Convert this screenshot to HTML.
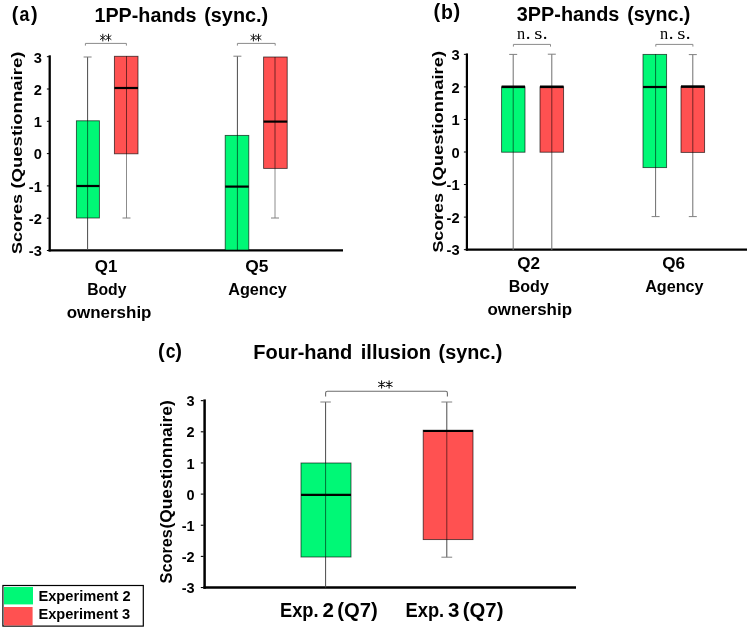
<!DOCTYPE html>
<html><head><meta charset="utf-8"><title>Figure</title>
<style>html,body{margin:0;padding:0;background:#fff;}svg{display:block;will-change:transform;}text{font-kerning:normal;}</style>
</head><body>
<svg width="750" height="630" viewBox="0 0 750 630">
<rect width="750" height="630" fill="#fff"/>
<text x="11.8" y="20.8" font-family="Liberation Sans" font-size="19.85" font-weight="bold" text-anchor="start" fill="#000" >(</text>
<text x="19.5" y="21.0" font-family="Liberation Sans" font-size="19.5" font-weight="bold" text-anchor="start" fill="#000" textLength="9.9" lengthAdjust="spacingAndGlyphs" >a</text>
<text x="30.9" y="20.8" font-family="Liberation Sans" font-size="19.85" font-weight="bold" text-anchor="start" fill="#000" >)</text>
<text x="94.4" y="21.7" font-family="Liberation Sans" font-size="20.3" font-weight="bold" text-anchor="start" fill="#000" textLength="102.2" lengthAdjust="spacingAndGlyphs" >1PP-hands</text>
<text x="204.2" y="21.7" font-family="Liberation Sans" font-size="20.3" font-weight="bold" text-anchor="start" fill="#000" textLength="64" lengthAdjust="spacingAndGlyphs" >(sync.)</text>
<text transform="translate(21.8,254.1) rotate(-90) scale(1.0,1.0)" font-family="Liberation Sans" font-size="14" font-weight="bold" text-anchor="start" fill="#000" textLength="60" lengthAdjust="spacingAndGlyphs">Scores</text>
<text transform="translate(21.8,188.6) rotate(-90) scale(1.0,1.0)" font-family="Liberation Sans" font-size="14" font-weight="bold" text-anchor="start" fill="#000" textLength="137" lengthAdjust="spacingAndGlyphs">(Questionnaire)</text>
<line x1="49.7" y1="55.3" x2="49.7" y2="251.5" stroke="#000" stroke-width="2.3" />
<line x1="48.6" y1="250.3" x2="343" y2="250.3" stroke="#000" stroke-width="2.3" />
<line x1="46.9" y1="56.7" x2="49" y2="56.7" stroke="#000" stroke-width="1" />
<text x="41.8" y="62.5" font-family="Liberation Sans" font-size="14.7" font-weight="bold" text-anchor="end" fill="#000" >3</text>
<line x1="46.9" y1="89.0" x2="49" y2="89.0" stroke="#000" stroke-width="1" />
<text x="41.8" y="94.8" font-family="Liberation Sans" font-size="14.7" font-weight="bold" text-anchor="end" fill="#000" >2</text>
<line x1="46.9" y1="121.3" x2="49" y2="121.3" stroke="#000" stroke-width="1" />
<text x="41.8" y="127.1" font-family="Liberation Sans" font-size="14.7" font-weight="bold" text-anchor="end" fill="#000" >1</text>
<line x1="46.9" y1="153.6" x2="49" y2="153.6" stroke="#000" stroke-width="1" />
<text x="41.8" y="159.4" font-family="Liberation Sans" font-size="14.7" font-weight="bold" text-anchor="end" fill="#000" >0</text>
<line x1="46.9" y1="185.89999999999998" x2="49" y2="185.89999999999998" stroke="#000" stroke-width="1" />
<text x="41.8" y="191.7" font-family="Liberation Sans" font-size="14.7" font-weight="bold" text-anchor="end" fill="#000" >-1</text>
<line x1="46.9" y1="218.2" x2="49" y2="218.2" stroke="#000" stroke-width="1" />
<text x="41.8" y="224.0" font-family="Liberation Sans" font-size="14.7" font-weight="bold" text-anchor="end" fill="#000" >-2</text>
<line x1="46.9" y1="250.5" x2="49" y2="250.5" stroke="#000" stroke-width="1" />
<text x="41.8" y="256.3" font-family="Liberation Sans" font-size="14.7" font-weight="bold" text-anchor="end" fill="#000" >-3</text>
<line x1="87.6" y1="57" x2="87.6" y2="250" stroke="#4a4a4a" stroke-width="1" />
<line x1="83.6" y1="57" x2="91.6" y2="57" stroke="#808080" stroke-width="1" />
<rect x="76.4" y="120.8" width="23.0" height="97.2" fill="#00F876" stroke="rgba(0,0,0,0.68)" stroke-width="0.9"/>
<line x1="87.6" y1="120.8" x2="87.6" y2="218" stroke="rgba(0,0,0,0.55)" stroke-width="1" />
<line x1="76.4" y1="186" x2="99.4" y2="186" stroke="#000" stroke-width="2.2" />
<line x1="126.5" y1="56.3" x2="126.5" y2="218" stroke="#8c8c8c" stroke-width="1" />
<line x1="122.5" y1="218" x2="130.5" y2="218" stroke="#808080" stroke-width="1" />
<rect x="114.4" y="56.3" width="23.599999999999994" height="97.50000000000001" fill="#FF5151" stroke="rgba(0,0,0,0.68)" stroke-width="0.9"/>
<line x1="126.5" y1="56.3" x2="126.5" y2="153.8" stroke="rgba(0,0,0,0.55)" stroke-width="1" />
<line x1="114.4" y1="88" x2="138" y2="88" stroke="#000" stroke-width="2.2" />
<line x1="237.4" y1="56.2" x2="237.4" y2="250" stroke="#4a4a4a" stroke-width="1" />
<line x1="233.4" y1="56.2" x2="241.4" y2="56.2" stroke="#808080" stroke-width="1" />
<rect x="225.2" y="135.4" width="23.600000000000023" height="114.6" fill="#00F876" stroke="rgba(0,0,0,0.68)" stroke-width="0.9"/>
<line x1="237.4" y1="135.4" x2="237.4" y2="250" stroke="rgba(0,0,0,0.55)" stroke-width="1" />
<line x1="225.2" y1="186.6" x2="248.8" y2="186.6" stroke="#000" stroke-width="2.2" />
<line x1="275" y1="57" x2="275" y2="218" stroke="#8c8c8c" stroke-width="1" />
<line x1="271.0" y1="218" x2="279.0" y2="218" stroke="#808080" stroke-width="1" />
<rect x="263.6" y="57" width="23.599999999999966" height="111.4" fill="#FF5151" stroke="rgba(0,0,0,0.68)" stroke-width="0.9"/>
<line x1="275" y1="57" x2="275" y2="168.4" stroke="rgba(0,0,0,0.55)" stroke-width="1" />
<line x1="263.6" y1="121.6" x2="287.2" y2="121.6" stroke="#000" stroke-width="2.2" />
<path d="M85.4 45.6 V43.4 H126.4 V45.6" fill="none" stroke="#8a8a8a" stroke-width="1"/>
<path d="M237.4 45.6 V43.4 H275.2 V45.6" fill="none" stroke="#8a8a8a" stroke-width="1"/>
<path d="M102.8 34.2 V41.0 M100.3 35.730000000000004 L105.3 39.47 M100.3 39.47 L105.3 35.730000000000004" fill="none" stroke="#111" stroke-width="0.95" stroke-linecap="round"/>
<path d="M108.5 34.2 V41.0 M106.0 35.730000000000004 L111.0 39.47 M106.0 39.47 L111.0 35.730000000000004" fill="none" stroke="#111" stroke-width="0.95" stroke-linecap="round"/>
<path d="M253.4 34.2 V41.0 M250.9 35.730000000000004 L255.9 39.47 M250.9 39.47 L255.9 35.730000000000004" fill="none" stroke="#111" stroke-width="0.95" stroke-linecap="round"/>
<path d="M258.5 34.2 V41.0 M256.0 35.730000000000004 L261.0 39.47 M256.0 39.47 L261.0 35.730000000000004" fill="none" stroke="#111" stroke-width="0.95" stroke-linecap="round"/>
<text x="106.1" y="271.7" font-family="Liberation Sans" font-size="17" font-weight="bold" text-anchor="middle" fill="#000" textLength="22.6" lengthAdjust="spacingAndGlyphs" >Q1</text>
<text x="106.8" y="295.1" font-family="Liberation Sans" font-size="17" font-weight="bold" text-anchor="middle" fill="#000" textLength="39.3" lengthAdjust="spacingAndGlyphs" >Body</text>
<text x="109.1" y="317.7" font-family="Liberation Sans" font-size="17" font-weight="bold" text-anchor="middle" fill="#000" textLength="84.8" lengthAdjust="spacingAndGlyphs" >ownership</text>
<text x="256.9" y="271.7" font-family="Liberation Sans" font-size="17" font-weight="bold" text-anchor="middle" fill="#000" textLength="23.2" lengthAdjust="spacingAndGlyphs" >Q5</text>
<text x="257.5" y="295.2" font-family="Liberation Sans" font-size="17" font-weight="bold" text-anchor="middle" fill="#000" textLength="58.6" lengthAdjust="spacingAndGlyphs" >Agency</text>
<text x="433.5" y="18.45" font-family="Liberation Sans" font-size="20.05" font-weight="bold" text-anchor="start" fill="#000" >(</text>
<text x="440.9" y="18.8" font-family="Liberation Sans" font-size="20.5" font-weight="bold" text-anchor="start" fill="#000" textLength="11.9" lengthAdjust="spacingAndGlyphs" >b</text>
<text x="453.6" y="18.45" font-family="Liberation Sans" font-size="20.05" font-weight="bold" text-anchor="start" fill="#000" >)</text>
<text x="516.8" y="21.1" font-family="Liberation Sans" font-size="20.3" font-weight="bold" text-anchor="start" fill="#000" textLength="102.6" lengthAdjust="spacingAndGlyphs" >3PP-hands</text>
<text x="627.2" y="21.1" font-family="Liberation Sans" font-size="20.3" font-weight="bold" text-anchor="start" fill="#000" textLength="63.2" lengthAdjust="spacingAndGlyphs" >(sync.)</text>
<text transform="translate(443.0,252.6) rotate(-90) scale(1.0,1.0)" font-family="Liberation Sans" font-size="14" font-weight="bold" text-anchor="start" fill="#000" textLength="59.5" lengthAdjust="spacingAndGlyphs">Scores</text>
<text transform="translate(443.0,186.7) rotate(-90) scale(1.0,1.0)" font-family="Liberation Sans" font-size="14" font-weight="bold" text-anchor="start" fill="#000" textLength="135.8" lengthAdjust="spacingAndGlyphs">(Questionnaire)</text>
<line x1="466.9" y1="53.4" x2="466.9" y2="250.7" stroke="#000" stroke-width="2.2" />
<line x1="465.8" y1="249.6" x2="747" y2="249.6" stroke="#000" stroke-width="2.2" />
<line x1="463.9" y1="54.35000000000001" x2="466" y2="54.35000000000001" stroke="#000" stroke-width="1" />
<text x="459.6" y="60.150000000000006" font-family="Liberation Sans" font-size="14.7" font-weight="bold" text-anchor="end" fill="#000" >3</text>
<line x1="463.9" y1="86.9" x2="466" y2="86.9" stroke="#000" stroke-width="1" />
<text x="459.6" y="92.7" font-family="Liberation Sans" font-size="14.7" font-weight="bold" text-anchor="end" fill="#000" >2</text>
<line x1="463.9" y1="119.45" x2="466" y2="119.45" stroke="#000" stroke-width="1" />
<text x="459.6" y="125.25" font-family="Liberation Sans" font-size="14.7" font-weight="bold" text-anchor="end" fill="#000" >1</text>
<line x1="463.9" y1="152.0" x2="466" y2="152.0" stroke="#000" stroke-width="1" />
<text x="459.6" y="157.8" font-family="Liberation Sans" font-size="14.7" font-weight="bold" text-anchor="end" fill="#000" >0</text>
<line x1="463.9" y1="184.55" x2="466" y2="184.55" stroke="#000" stroke-width="1" />
<text x="459.6" y="190.35000000000002" font-family="Liberation Sans" font-size="14.7" font-weight="bold" text-anchor="end" fill="#000" >-1</text>
<line x1="463.9" y1="217.1" x2="466" y2="217.1" stroke="#000" stroke-width="1" />
<text x="459.6" y="222.9" font-family="Liberation Sans" font-size="14.7" font-weight="bold" text-anchor="end" fill="#000" >-2</text>
<line x1="463.9" y1="249.64999999999998" x2="466" y2="249.64999999999998" stroke="#000" stroke-width="1" />
<text x="459.6" y="255.45" font-family="Liberation Sans" font-size="14.7" font-weight="bold" text-anchor="end" fill="#000" >-3</text>
<line x1="513.2" y1="54.4" x2="513.2" y2="250" stroke="#6e6e6e" stroke-width="1" />
<line x1="509.20000000000005" y1="54.4" x2="517.2" y2="54.4" stroke="#808080" stroke-width="1" />
<rect x="501.6" y="86.8" width="23.399999999999977" height="65.39999999999999" fill="#00F876" stroke="rgba(0,0,0,0.68)" stroke-width="0.9"/>
<line x1="513.2" y1="86.8" x2="513.2" y2="152.2" stroke="rgba(0,0,0,0.55)" stroke-width="1" />
<line x1="501.6" y1="86.8" x2="525" y2="86.8" stroke="#000" stroke-width="2.6" />
<line x1="551.8" y1="54.2" x2="551.8" y2="250" stroke="#6e6e6e" stroke-width="1" />
<line x1="547.8" y1="54.2" x2="555.8" y2="54.2" stroke="#808080" stroke-width="1" />
<rect x="540" y="86.8" width="23.600000000000023" height="65.39999999999999" fill="#FF5151" stroke="rgba(0,0,0,0.68)" stroke-width="0.9"/>
<line x1="551.8" y1="86.8" x2="551.8" y2="152.2" stroke="rgba(0,0,0,0.55)" stroke-width="1" />
<line x1="540" y1="86.8" x2="563.6" y2="86.8" stroke="#000" stroke-width="2.6" />
<line x1="655.6" y1="54.4" x2="655.6" y2="216.6" stroke="#6e6e6e" stroke-width="1" />
<line x1="651.6" y1="216.6" x2="659.6" y2="216.6" stroke="#808080" stroke-width="1" />
<rect x="643" y="54.4" width="23.600000000000023" height="113.19999999999999" fill="#00F876" stroke="rgba(0,0,0,0.68)" stroke-width="0.9"/>
<line x1="655.6" y1="54.4" x2="655.6" y2="167.6" stroke="rgba(0,0,0,0.55)" stroke-width="1" />
<line x1="643" y1="87" x2="666.6" y2="87" stroke="#000" stroke-width="2.2" />
<line x1="692.8" y1="54.6" x2="692.8" y2="216.6" stroke="#6e6e6e" stroke-width="1" />
<line x1="688.8" y1="54.6" x2="696.8" y2="54.6" stroke="#808080" stroke-width="1" />
<line x1="688.8" y1="216.6" x2="696.8" y2="216.6" stroke="#808080" stroke-width="1" />
<rect x="681" y="86.6" width="23.600000000000023" height="65.80000000000001" fill="#FF5151" stroke="rgba(0,0,0,0.68)" stroke-width="0.9"/>
<line x1="692.8" y1="86.6" x2="692.8" y2="152.4" stroke="rgba(0,0,0,0.55)" stroke-width="1" />
<line x1="681" y1="86.6" x2="704.6" y2="86.6" stroke="#000" stroke-width="2.6" />
<path d="M513.4 46.6 V44.4 H550.5 V46.6" fill="none" stroke="#8a8a8a" stroke-width="1"/>
<path d="M655.8 46.6 V44.4 H692.9 V46.6" fill="none" stroke="#8a8a8a" stroke-width="1"/>
<text transform="translate(516.9,38.9) scale(0.95,1.0)" font-family="Liberation Serif" font-size="17.2" font-weight="normal" text-anchor="start" fill="#000">n</text>
<text transform="translate(525.7,38.9) scale(1.0,1.0)" font-family="Liberation Serif" font-size="19" font-weight="normal" text-anchor="start" fill="#000">.</text>
<text transform="translate(534.2,38.9) scale(1.22,1.0)" font-family="Liberation Serif" font-size="17.2" font-weight="normal" text-anchor="start" fill="#000">s</text>
<text transform="translate(542.8,38.9) scale(1.0,1.0)" font-family="Liberation Serif" font-size="19" font-weight="normal" text-anchor="start" fill="#000">.</text>
<text transform="translate(659.9,38.9) scale(0.95,1.0)" font-family="Liberation Serif" font-size="17.2" font-weight="normal" text-anchor="start" fill="#000">n</text>
<text transform="translate(668.7,38.9) scale(1.0,1.0)" font-family="Liberation Serif" font-size="19" font-weight="normal" text-anchor="start" fill="#000">.</text>
<text transform="translate(677.2,38.9) scale(1.22,1.0)" font-family="Liberation Serif" font-size="17.2" font-weight="normal" text-anchor="start" fill="#000">s</text>
<text transform="translate(685.8,38.9) scale(1.0,1.0)" font-family="Liberation Serif" font-size="19" font-weight="normal" text-anchor="start" fill="#000">.</text>
<text x="528.6" y="269.4" font-family="Liberation Sans" font-size="17" font-weight="bold" text-anchor="middle" fill="#000" textLength="22.8" lengthAdjust="spacingAndGlyphs" >Q2</text>
<text x="528.8" y="292.3" font-family="Liberation Sans" font-size="17" font-weight="bold" text-anchor="middle" fill="#000" textLength="40.2" lengthAdjust="spacingAndGlyphs" >Body</text>
<text x="529.7" y="315.1" font-family="Liberation Sans" font-size="17" font-weight="bold" text-anchor="middle" fill="#000" textLength="84.6" lengthAdjust="spacingAndGlyphs" >ownership</text>
<text x="673.6" y="269.4" font-family="Liberation Sans" font-size="17" font-weight="bold" text-anchor="middle" fill="#000" textLength="22.8" lengthAdjust="spacingAndGlyphs" >Q6</text>
<text x="674.4" y="292.3" font-family="Liberation Sans" font-size="17" font-weight="bold" text-anchor="middle" fill="#000" textLength="58.4" lengthAdjust="spacingAndGlyphs" >Agency</text>
<text x="157.9" y="357.65" font-family="Liberation Sans" font-size="20.1" font-weight="bold" text-anchor="start" fill="#000" >(</text>
<text x="165.8" y="358.2" font-family="Liberation Sans" font-size="19.9" font-weight="bold" text-anchor="start" fill="#000" textLength="9.75" lengthAdjust="spacingAndGlyphs" >c</text>
<text x="175.3" y="357.65" font-family="Liberation Sans" font-size="20.1" font-weight="bold" text-anchor="start" fill="#000" >)</text>
<text x="253.2" y="358.8" font-family="Liberation Sans" font-size="20.3" font-weight="bold" text-anchor="start" fill="#000" textLength="99" lengthAdjust="spacingAndGlyphs" >Four-hand</text>
<text x="360.8" y="358.8" font-family="Liberation Sans" font-size="20.3" font-weight="bold" text-anchor="start" fill="#000" textLength="70.2" lengthAdjust="spacingAndGlyphs" >illusion</text>
<text x="438.6" y="358.8" font-family="Liberation Sans" font-size="20.3" font-weight="bold" text-anchor="start" fill="#000" textLength="63.8" lengthAdjust="spacingAndGlyphs" >(sync.)</text>
<text transform="translate(172.0,583.4) rotate(-90) scale(1.0,1.0)" font-family="Liberation Sans" font-size="16.3" font-weight="bold" text-anchor="start" fill="#000" textLength="54.2" lengthAdjust="spacingAndGlyphs">Scores</text>
<text transform="translate(172.0,528.6) rotate(-90) scale(1.0,1.0)" font-family="Liberation Sans" font-size="16.3" font-weight="bold" text-anchor="start" fill="#000" textLength="128.4" lengthAdjust="spacingAndGlyphs">(Questionnaire)</text>
<line x1="204.6" y1="399.4" x2="204.6" y2="588.8" stroke="#000" stroke-width="2.5" />
<line x1="203.4" y1="587.5" x2="576" y2="587.5" stroke="#000" stroke-width="2.5" />
<line x1="200.8" y1="400.65000000000003" x2="203.6" y2="400.65000000000003" stroke="#000" stroke-width="1.1" />
<text x="194.6" y="406.25000000000006" font-family="Liberation Sans" font-size="14.5" font-weight="bold" text-anchor="end" fill="#000" >3</text>
<line x1="200.8" y1="431.8" x2="203.6" y2="431.8" stroke="#000" stroke-width="1.1" />
<text x="194.6" y="437.40000000000003" font-family="Liberation Sans" font-size="14.5" font-weight="bold" text-anchor="end" fill="#000" >2</text>
<line x1="200.8" y1="462.95000000000005" x2="203.6" y2="462.95000000000005" stroke="#000" stroke-width="1.1" />
<text x="194.6" y="468.55000000000007" font-family="Liberation Sans" font-size="14.5" font-weight="bold" text-anchor="end" fill="#000" >1</text>
<line x1="200.8" y1="494.1" x2="203.6" y2="494.1" stroke="#000" stroke-width="1.1" />
<text x="194.6" y="499.70000000000005" font-family="Liberation Sans" font-size="14.5" font-weight="bold" text-anchor="end" fill="#000" >0</text>
<line x1="200.8" y1="525.25" x2="203.6" y2="525.25" stroke="#000" stroke-width="1.1" />
<text x="194.6" y="530.85" font-family="Liberation Sans" font-size="14.5" font-weight="bold" text-anchor="end" fill="#000" >-1</text>
<line x1="200.8" y1="556.4" x2="203.6" y2="556.4" stroke="#000" stroke-width="1.1" />
<text x="194.6" y="562.0" font-family="Liberation Sans" font-size="14.5" font-weight="bold" text-anchor="end" fill="#000" >-2</text>
<line x1="200.8" y1="587.55" x2="203.6" y2="587.55" stroke="#000" stroke-width="1.1" />
<text x="194.6" y="593.15" font-family="Liberation Sans" font-size="14.5" font-weight="bold" text-anchor="end" fill="#000" >-3</text>
<line x1="325.6" y1="402" x2="325.6" y2="587.5" stroke="#4a4a4a" stroke-width="1" />
<line x1="320.35" y1="402" x2="330.85" y2="402" stroke="#808080" stroke-width="1" />
<rect x="301" y="463" width="50" height="94" fill="#00F876" stroke="rgba(0,0,0,0.68)" stroke-width="0.9"/>
<line x1="325.6" y1="463" x2="325.6" y2="557" stroke="rgba(0,0,0,0.55)" stroke-width="1" />
<line x1="301" y1="494.8" x2="351" y2="494.8" stroke="#000" stroke-width="2.2" />
<line x1="446.8" y1="402" x2="446.8" y2="557.2" stroke="#4a4a4a" stroke-width="1" />
<line x1="441.40000000000003" y1="402" x2="452.2" y2="402" stroke="#808080" stroke-width="1" />
<line x1="441.40000000000003" y1="557.2" x2="452.2" y2="557.2" stroke="#808080" stroke-width="1" />
<rect x="423.2" y="430.2" width="49.80000000000001" height="109.40000000000003" fill="#FF5151" stroke="rgba(0,0,0,0.68)" stroke-width="0.9"/>
<line x1="446.8" y1="430.2" x2="446.8" y2="539.6" stroke="rgba(0,0,0,0.55)" stroke-width="1" />
<line x1="423.2" y1="431.0" x2="473" y2="431.0" stroke="#000" stroke-width="2.2" />
<path d="M325.6 396.6 V393 Q325.6 391.3 327.4 391.3 H445.8 Q447.4 391.3 447.4 393 V396.6" fill="none" stroke="#6c6c6c" stroke-width="1.1"/>
<path d="M381.6 380.7 V388.09999999999997 M378.6 382.36499999999995 L384.6 386.435 M378.6 386.435 L384.6 382.36499999999995" fill="none" stroke="#111" stroke-width="1.05" stroke-linecap="round"/>
<path d="M389.1 380.7 V388.09999999999997 M386.1 382.36499999999995 L392.1 386.435 M386.1 386.435 L392.1 382.36499999999995" fill="none" stroke="#111" stroke-width="1.05" stroke-linecap="round"/>
<text x="280.0" y="617.2" font-family="Liberation Sans" font-size="21" font-weight="bold" text-anchor="start" fill="#000" textLength="38.6" lengthAdjust="spacingAndGlyphs" >Exp.</text>
<text x="322.4" y="617.2" font-family="Liberation Sans" font-size="21" font-weight="bold" text-anchor="start" fill="#000" textLength="11.4" lengthAdjust="spacingAndGlyphs" >2</text>
<text x="337.2" y="617.2" font-family="Liberation Sans" font-size="21" font-weight="bold" text-anchor="start" fill="#000" textLength="40.6" lengthAdjust="spacingAndGlyphs" >(Q7)</text>
<text x="405.6" y="617.2" font-family="Liberation Sans" font-size="21" font-weight="bold" text-anchor="start" fill="#000" textLength="38.6" lengthAdjust="spacingAndGlyphs" >Exp.</text>
<text x="448.0" y="617.2" font-family="Liberation Sans" font-size="21" font-weight="bold" text-anchor="start" fill="#000" textLength="11.4" lengthAdjust="spacingAndGlyphs" >3</text>
<text x="462.79999999999995" y="617.2" font-family="Liberation Sans" font-size="21" font-weight="bold" text-anchor="start" fill="#000" textLength="40.6" lengthAdjust="spacingAndGlyphs" >(Q7)</text>
<rect x="2.9" y="585.5" width="140.4" height="40.6" fill="#fff" stroke="#000" stroke-width="1.2"/>
<rect x="4" y="587" width="29" height="17.4" fill="#00F876"/>
<rect x="4" y="607" width="28.6" height="18.4" fill="#FF5151"/>
<text x="38.4" y="601.2" font-family="Liberation Sans" font-size="14.3" font-weight="bold" text-anchor="start" fill="#000" textLength="92.2" lengthAdjust="spacingAndGlyphs" >Experiment 2</text>
<text x="38.4" y="619.4" font-family="Liberation Sans" font-size="14.3" font-weight="bold" text-anchor="start" fill="#000" textLength="91.8" lengthAdjust="spacingAndGlyphs" >Experiment 3</text>
</svg>
</body></html>
